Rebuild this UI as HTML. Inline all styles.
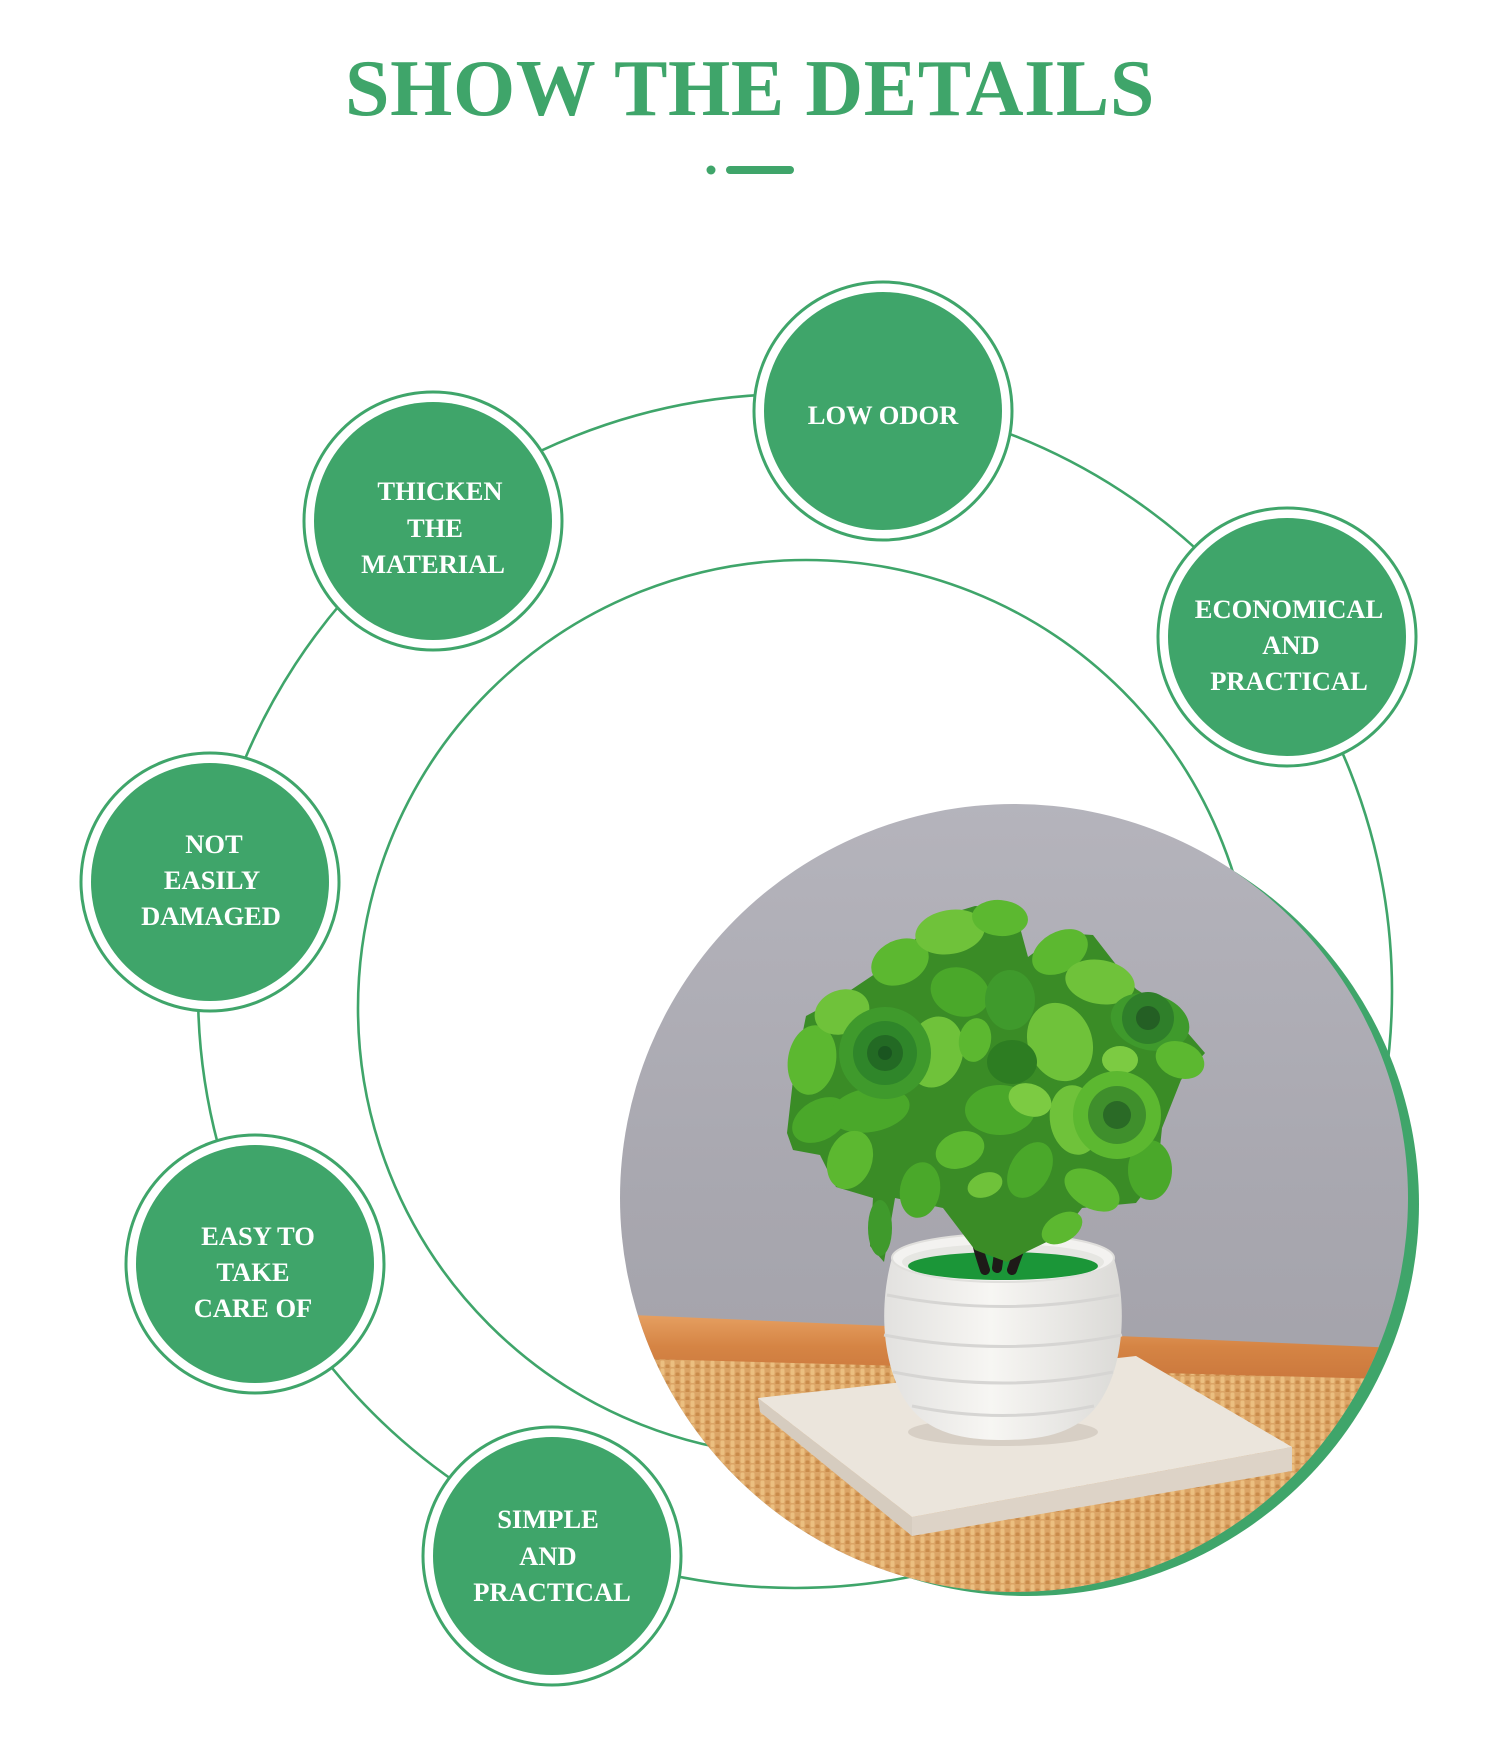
<!DOCTYPE html>
<html>
<head>
<meta charset="utf-8">
<style>
  html,body{margin:0;padding:0;background:#ffffff;}
  body{width:1500px;height:1742px;overflow:hidden;}
  svg{display:block;}
  .t{font-family:"Liberation Serif","Times New Roman",serif;font-weight:bold;}
</style>
</head>
<body>
<svg width="1500" height="1742" viewBox="0 0 1500 1742" xmlns="http://www.w3.org/2000/svg">
  <defs>
    <clipPath id="pc"><circle cx="1014" cy="1198" r="394"/></clipPath>
    <linearGradient id="bg" x1="0" y1="0" x2="0" y2="1">
      <stop offset="0" stop-color="#b5b4bc"/>
      <stop offset="0.5" stop-color="#a8a7af"/>
      <stop offset="1" stop-color="#9f9ea6"/>
    </linearGradient>
    <linearGradient id="rim" x1="0" y1="0" x2="0" y2="1">
      <stop offset="0" stop-color="#e6a062"/>
      <stop offset="0.5" stop-color="#d58444"/>
      <stop offset="1" stop-color="#cb783d"/>
    </linearGradient>
    <pattern id="weave" width="10" height="8" patternUnits="userSpaceOnUse">
      <rect width="10" height="8" fill="#dca566"/>
      <rect x="0.5" y="0.5" width="4" height="6.5" rx="1.5" fill="#ebbf80"/>
      <rect x="5.5" y="4.5" width="4" height="6.5" rx="1.5" fill="#c98b4a"/>
    </pattern>
    <linearGradient id="pot" x1="0" y1="0" x2="1" y2="0">
      <stop offset="0" stop-color="#e2e1df"/>
      <stop offset="0.45" stop-color="#f7f6f3"/>
      <stop offset="1" stop-color="#dbdad7"/>
    </linearGradient>
  </defs>

  <!-- Title -->
  <text class="t" x="750" y="115" text-anchor="middle" font-size="80" letter-spacing="0.6" fill="#3fa56a">SHOW THE DETAILS</text>
  <circle cx="711" cy="170" r="4.5" fill="#3fa56a"/>
  <rect x="726" y="166" width="68" height="8" rx="4" fill="#3fa56a"/>

  <!-- rings -->
  <circle cx="795" cy="991" r="597" fill="none" stroke="#3fa56a" stroke-width="2.6"/>
  <circle cx="806" cy="1008" r="448" fill="none" stroke="#3fa56a" stroke-width="2.6"/>

  <!-- nodes -->
  <g>
    <circle cx="883" cy="411" r="129" fill="#fff" stroke="#3fa56a" stroke-width="3"/>
    <circle cx="883" cy="411" r="119" fill="#3fa56a"/>
    <circle cx="433" cy="521" r="129" fill="#fff" stroke="#3fa56a" stroke-width="3"/>
    <circle cx="433" cy="521" r="119" fill="#3fa56a"/>
    <circle cx="1287" cy="637" r="129" fill="#fff" stroke="#3fa56a" stroke-width="3"/>
    <circle cx="1287" cy="637" r="119" fill="#3fa56a"/>
    <circle cx="210" cy="882" r="129" fill="#fff" stroke="#3fa56a" stroke-width="3"/>
    <circle cx="210" cy="882" r="119" fill="#3fa56a"/>
    <circle cx="255" cy="1264" r="129" fill="#fff" stroke="#3fa56a" stroke-width="3"/>
    <circle cx="255" cy="1264" r="119" fill="#3fa56a"/>
    <circle cx="552" cy="1556" r="129" fill="#fff" stroke="#3fa56a" stroke-width="3"/>
    <circle cx="552" cy="1556" r="119" fill="#3fa56a"/>
  </g>

  <g class="t" font-size="26.5" fill="#ffffff" text-anchor="middle">
    <text x="883" y="424">LOW ODOR</text>

    <text x="440" y="500">THICKEN</text>
    <text x="435" y="537">THE</text>
    <text x="433" y="573">MATERIAL</text>

    <text x="1289" y="618">ECONOMICAL</text>
    <text x="1291" y="654">AND</text>
    <text x="1289" y="690">PRACTICAL</text>

    <text x="214" y="853">NOT</text>
    <text x="212" y="889">EASILY</text>
    <text x="211" y="925">DAMAGED</text>

    <text x="258" y="1245">EASY TO</text>
    <text x="253" y="1281">TAKE</text>
    <text x="253" y="1317">CARE OF</text>

    <text x="548" y="1528">SIMPLE</text>
    <text x="548" y="1565">AND</text>
    <text x="552" y="1601">PRACTICAL</text>
  </g>

  <!-- photo -->
  <circle cx="1027" cy="1204" r="392" fill="#3fa56a"/>
  <g clip-path="url(#pc)">
    <rect x="610" y="795" width="810" height="810" fill="url(#bg)"/>
    <!-- woven tray -->
    <polygon points="610,1352 1420,1378 1420,1610 610,1610" fill="url(#weave)"/>
    <!-- tray rim -->
    <polygon points="610,1314 1420,1349 1420,1380 610,1358" fill="url(#rim)"/>
    <!-- slab -->
    <polygon points="758,1398 912,1517 912,1536 760,1412" fill="#d6ccbf"/>
    <polygon points="912,1517 1292,1447 1292,1471 912,1536" fill="#ddd3c7"/>
    <polygon points="758,1398 1136,1356 1292,1447 912,1517" fill="#ebe5dc"/>
    <ellipse cx="1003" cy="1432" rx="95" ry="14" fill="#cfc6ba" opacity="0.7"/>
    <!-- pot -->
    <path d="M892 1258 C880 1300 880 1360 905 1400 C925 1432 960 1440 1003 1440 C1046 1440 1081 1432 1101 1400 C1126 1360 1126 1300 1114 1258 Z" fill="url(#pot)"/>
    <path d="M887 1295 Q1003 1318 1119 1295" fill="none" stroke="#d6d5d3" stroke-width="3"/>
    <path d="M884 1335 Q1003 1358 1122 1335" fill="none" stroke="#d6d5d3" stroke-width="3"/>
    <path d="M893 1372 Q1003 1394 1113 1372" fill="none" stroke="#d6d5d3" stroke-width="3"/>
    <path d="M912 1406 Q1003 1425 1094 1406" fill="none" stroke="#d6d5d3" stroke-width="3"/>
    <ellipse cx="1003" cy="1258" rx="111" ry="24" fill="#f3f2f0" stroke="#e0dfdc" stroke-width="2"/>
    <ellipse cx="1003" cy="1262" rx="101" ry="18" fill="#e6e6e2"/>
    <ellipse cx="1003" cy="1266" rx="95" ry="14" fill="#1b9638"/>
    <!-- trunk -->
    <g fill="none" stroke="#1e1a18" stroke-width="10" stroke-linecap="round">
      <path d="M985 1270 C975 1240 968 1215 982 1188"/>
      <path d="M1012 1270 C1022 1240 1034 1215 1046 1182"/>
      <path d="M997 1268 C1003 1232 994 1205 1006 1172"/>
    </g>
    <!-- foliage -->
    <path d="M787 1133 L793 1080 L806 1016 L836 1000 L900 957 L932 919 L975 906 L1015 909 L1028 957 L1061 933 L1093 935 L1114 962 L1136 989 L1168 1010 L1205 1053 L1181 1080 L1162 1128 L1157 1176 L1136 1203 L1082 1208 L1061 1235 L1028 1251 L1007 1262 L975 1250 L943 1208 L895 1198 L884 1262 L870 1246 L873 1198 L836 1187 L820 1155 L793 1150 Z" fill="#3a8c26"/>
    <g>
      <ellipse cx="820" cy="1120" rx="30" ry="20" transform="rotate(-30 820 1120)" fill="#4aa82a"/>
      <ellipse cx="812" cy="1060" rx="24" ry="35" transform="rotate(10 812 1060)" fill="#5cb830"/>
      <ellipse cx="842" cy="1012" rx="28" ry="22" transform="rotate(-20 842 1012)" fill="#6fc23a"/>
      <ellipse cx="935" cy="1052" rx="28" ry="36" transform="rotate(15 935 1052)" fill="#6fc23a"/>
      <ellipse cx="870" cy="1110" rx="40" ry="22" transform="rotate(-10 870 1110)" fill="#4aa82a"/>
      <ellipse cx="850" cy="1160" rx="22" ry="30" transform="rotate(20 850 1160)" fill="#5cb830"/>
      <ellipse cx="900" cy="962" rx="30" ry="22" transform="rotate(-25 900 962)" fill="#5cb830"/>
      <ellipse cx="950" cy="932" rx="35" ry="22" transform="rotate(-10 950 932)" fill="#6fc23a"/>
      <ellipse cx="1000" cy="918" rx="28" ry="18" transform="rotate(5 1000 918)" fill="#5cb830"/>
      <ellipse cx="960" cy="992" rx="30" ry="24" transform="rotate(20 960 992)" fill="#4aa82a"/>
      <ellipse cx="1010" cy="1000" rx="25" ry="30" fill="#3f9a2c"/>
      <ellipse cx="1060" cy="952" rx="30" ry="20" transform="rotate(-30 1060 952)" fill="#5cb830"/>
      <ellipse cx="1100" cy="982" rx="35" ry="22" transform="rotate(10 1100 982)" fill="#6fc23a"/>
      <ellipse cx="1060" cy="1042" rx="32" ry="40" transform="rotate(-20 1060 1042)" fill="#6fc23a"/>
      <ellipse cx="1150" cy="1022" rx="40" ry="28" transform="rotate(15 1150 1022)" fill="#3f9a2c"/>
      <ellipse cx="1180" cy="1060" rx="25" ry="18" transform="rotate(20 1180 1060)" fill="#5cb830"/>
      <ellipse cx="1000" cy="1110" rx="35" ry="25" fill="#4aa82a"/>
      <ellipse cx="1012" cy="1062" rx="25" ry="22" fill="#2d7d22"/>
      <ellipse cx="960" cy="1150" rx="25" ry="18" transform="rotate(-20 960 1150)" fill="#5cb830"/>
      <ellipse cx="920" cy="1190" rx="20" ry="28" transform="rotate(10 920 1190)" fill="#4aa82a"/>
      <ellipse cx="880" cy="1228" rx="12" ry="28" fill="#3f9a2c"/>
      <ellipse cx="1030" cy="1170" rx="20" ry="30" transform="rotate(30 1030 1170)" fill="#4aa82a"/>
      <ellipse cx="1062" cy="1228" rx="22" ry="14" transform="rotate(-30 1062 1228)" fill="#5cb830"/>
      <ellipse cx="1075" cy="1120" rx="25" ry="35" transform="rotate(-10 1075 1120)" fill="#6fc23a"/>
      <ellipse cx="1150" cy="1170" rx="22" ry="30" fill="#4aa82a"/>
      <ellipse cx="1092" cy="1190" rx="30" ry="18" transform="rotate(30 1092 1190)" fill="#5cb830"/>
      <ellipse cx="1030" cy="1100" rx="22" ry="16" transform="rotate(20 1030 1100)" fill="#7ccb42"/>
      <ellipse cx="985" cy="1185" rx="18" ry="12" transform="rotate(-20 985 1185)" fill="#6fc23a"/>
      <ellipse cx="1120" cy="1060" rx="18" ry="14" fill="#7ccb42"/>
      <ellipse cx="975" cy="1040" rx="16" ry="22" transform="rotate(10 975 1040)" fill="#5cb830"/>
      <!-- roses -->
      <circle cx="885" cy="1053" r="46" fill="#3f9a2c"/>
      <circle cx="885" cy="1053" r="32" fill="#2f862a"/>
      <circle cx="885" cy="1053" r="18" fill="#236a24"/>
      <circle cx="885" cy="1053" r="7" fill="#1a5520"/>
      <circle cx="1117" cy="1115" r="44" fill="#5cb830"/>
      <circle cx="1117" cy="1115" r="29" fill="#3f8f2c"/>
      <circle cx="1117" cy="1115" r="14" fill="#2a6a26"/>
      <circle cx="1148" cy="1018" r="26" fill="#2f7f2a"/>
      <circle cx="1148" cy="1018" r="12" fill="#245f24"/>
    </g>
  </g>
</svg>
</body>
</html>
